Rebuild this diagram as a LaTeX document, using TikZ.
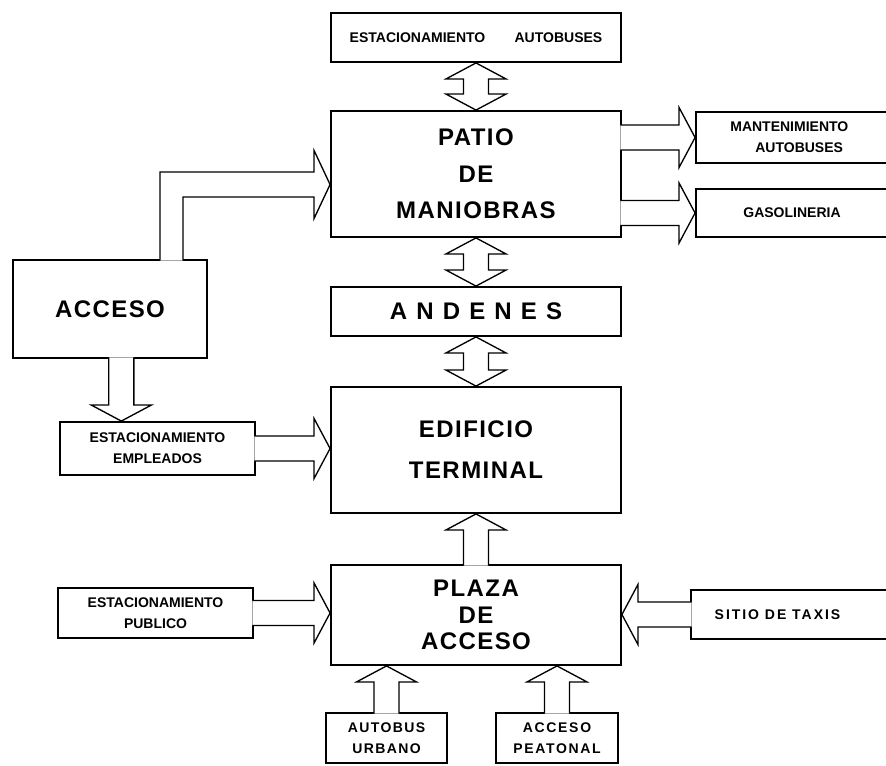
\documentclass[tikz,border=0pt]{standalone}
\usepackage{fontspec}
\setmainfont{Liberation Sans}
\usetikzlibrary{calc}

\newcommand{\shaftw}{9.4pt}
\newcommand{\headw}{22.5pt}
\newcommand{\headl}{12pt}

\begin{document}
\begin{tikzpicture}[x=0.75pt, y=-0.75pt,
  box/.style={rectangle, draw, line width=1.4pt, inner sep=0pt, align=center, font=\bfseries\fontsize{10.5}{15.75}\selectfont},
  sm/.style={font=\bfseries\fontsize{10.5}{15.75}\selectfont\addfontfeature{LetterSpace=#1}}, sm/.default=0,
  big/.style={font=\bfseries\fontsize{18}{#1}\selectfont\addfontfeature{LetterSpace=6}}, big/.default=20pt,
  wide/.style={font=\bfseries\fontsize{18}{20}\selectfont\addfontfeature{LetterSpace=38}},
  fatline/.style={draw, fill=white, line width=1pt},
  fat/.style={fatline, to path={
    let \p1=(\tikztostart), \p2=(\tikztotarget), \n1={atan2(\y2-\y1,\x2-\x1)} in
    ($(\p1)+({\n1+90}:\shaftw)+(\n1:-1.2pt)$)
    -- ($(\p2)+({\n1+90}:\shaftw)+(\n1:-\headl)$)
    -- ($(\p2)+({\n1+90}:\headw)+(\n1:-\headl)$)
    -- (\p2)
    -- ($(\p2)+({\n1-90}:\headw)+(\n1:-\headl)$)
    -- ($(\p2)+({\n1-90}:\shaftw)+(\n1:-\headl)$)
    -- ($(\p1)+({\n1-90}:\shaftw)+(\n1:-1.2pt)$)}},
  dbl/.style={fatline, to path={
    let \p1=(\tikztostart), \p2=(\tikztotarget), \n1={atan2(\y2-\y1,\x2-\x1)} in
    (\p1)
    -- ($(\p1)+({\n1+90}:\headw)+(\n1:\headl)$)
    -- ($(\p1)+({\n1+90}:\shaftw)+(\n1:\headl)$)
    -- ($(\p2)+({\n1+90}:\shaftw)+(\n1:-\headl)$)
    -- ($(\p2)+({\n1+90}:\headw)+(\n1:-\headl)$)
    -- (\p2)
    -- ($(\p2)+({\n1-90}:\headw)+(\n1:-\headl)$)
    -- ($(\p2)+({\n1-90}:\shaftw)+(\n1:-\headl)$)
    -- ($(\p1)+({\n1-90}:\shaftw)+(\n1:\headl)$)
    -- ($(\p1)+({\n1-90}:\headw)+(\n1:\headl)$) -- cycle}}
]
  \useasboundingbox (0,0) rectangle (886,765);

  % central column
  \node[box, minimum width=217.5pt, minimum height=36.75pt] (estaut) at (476,37.5) {ESTACIONAMIENTO\hspace{22pt}AUTOBUSES};
  \node[box, big=27.5pt, minimum width=217.5pt, minimum height=94.5pt] (patio) at (476,174) {PATIO\\DE\\MANIOBRAS};
  \node[box, wide, minimum width=217.5pt, minimum height=36.75pt] (andenes) at (476,311.5) {ANDENES};
  \node[box, big=30.75pt, minimum width=217.5pt, minimum height=94.5pt] (edificio) at (476,450) {EDIFICIO\\TERMINAL};
  \node[box, big, minimum width=217.5pt, minimum height=75pt] (plaza) at (476,615) {PLAZA\\DE\\ACCESO};

  % right side
  \node[box, align=right, minimum width=144pt, minimum height=38.25pt] (mant) at (792,137.5) {MANTENIMIENTO\hspace*{4pt}\\AUTOBUSES\hspace*{8pt}};
  \node[box, minimum width=144pt, minimum height=36pt] (gas) at (792,213) {GASOLINERIA};
  \node[box, sm=14, minimum width=147.75pt, minimum height=36.75pt] (taxis) at (789.5,614.5) {SITIO DE TAXIS\hspace*{18pt}};

  % left side
  \node[box, big, minimum width=145.5pt, minimum height=73.5pt] (acceso) at (110,309) {ACCESO};
  \node[box, minimum width=146.25pt, minimum height=39.75pt] (empleados) at (157.5,448.5) {ESTACIONAMIENTO\\EMPLEADOS};
  \node[box, minimum width=146.25pt, minimum height=37.5pt] (publico) at (155.5,613) {ESTACIONAMIENTO\\PUBLICO};

  % bottom
  \node[box, sm=10, minimum width=90.75pt, minimum height=37.5pt] (urbano) at (386.5,738) {AUTOBUS\\URBANO};
  \node[box, sm=12, minimum width=91.5pt, minimum height=37.5pt] (peatonal) at (557,738) {ACCESO\\PEATONAL};

  % connectors
  \draw[dbl] (estaut.south) to (patio.north);
  \draw[dbl] (patio.south) to (andenes.north);
  \draw[dbl] (andenes.south) to (edificio.north);
  \draw[fat] (plaza.north) to (edificio.south);
  \draw[fat] (urbano.north) to (urbano.north |- plaza.south);
  \draw[fat] (peatonal.north) to (peatonal.north |- plaza.south);
  \draw[fat] (publico.east) to (publico.east -| plaza.west);
  \draw[fat] (taxis.west) to (taxis.west -| plaza.east);
  \draw[fat] (empleados.east) to (empleados.east -| edificio.west);
  \draw[fat] (patio.east |- mant.west) to (mant.west);
  \draw[fat] (patio.east |- gas.west) to (gas.west);
  \coordinate (accout) at ([xshift=8.5pt]acceso.south);
  \draw[fat] (accout) to (accout |- empleados.north);

  % bent arrow from acceso to patio
  \coordinate (elbow) at (171.5,184.5);
  \coordinate (upfoot) at (elbow |- acceso.north);
  \coordinate (tipL) at (elbow -| patio.west);
  \draw[fatline] ($(upfoot)+(-11.5,1.5)$) |- ($(tipL)+(-16,-12.5)$) -- ++(0,-21.5) -- (tipL)
    -- ($(tipL)+(-16,34)$) -- ++(0,-21.5) -| ($(upfoot)+(11.5,1.5)$);
\end{tikzpicture}
\end{document}
